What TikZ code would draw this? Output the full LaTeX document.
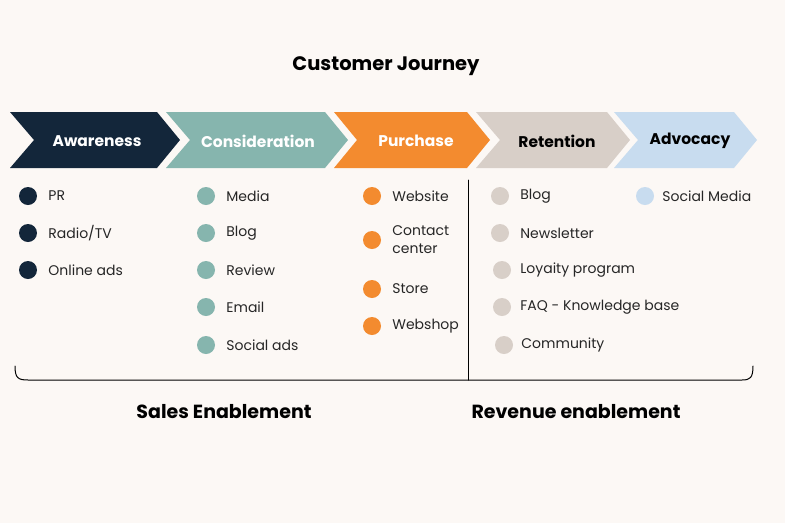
\documentclass[tikz,border=0pt]{standalone}
\usepackage{fontspec}
\setmainfont{Poppins}
\usetikzlibrary{positioning}
\definecolor{bgcol}{HTML}{FCF8F5}
\definecolor{navy}{HTML}{13263A}
\definecolor{teal}{HTML}{86B5AE}
\definecolor{orng}{HTML}{F38B2F}
\definecolor{beige}{HTML}{D8CFC8}
\definecolor{lblue}{HTML}{C8DCEF}
\begin{document}
\begin{tikzpicture}[x=1pt, y=-1pt, line join = round, line cap = round,
  stage/.style={font=\fontsize{15.5}{18}\selectfont\bfseries},
  item/.style={anchor=west, font=\fontsize{14}{18}\selectfont, text=black!85, align=left, inner sep=0pt},
  dot/.style={circle, minimum size=18pt, inner sep=0pt}]

% background and bounding box
\fill[bgcol] (0,0) rectangle (785,523);
\useasboundingbox (0,0) rectangle (785,523);

% title
\node[font=\fontsize{19.5}{22}\selectfont\bfseries] (title) at (386,66) {Customer Journey};

% chevrons
\fill[navy]  (10,112) -- (157,112) -- (180,140) -- (157,168) -- (10,168) -- (34,140) -- cycle;
\fill[teal]  (166,112) -- (325,112) -- (348,140) -- (325,168) -- (166,168) -- (190,140) -- cycle;
\fill[orng]  (334,112) -- (467,112) -- (490,140) -- (467,168) -- (334,168) -- (357,140) -- cycle;
\fill[beige] (476,112) -- (607,112) -- (630,140) -- (607,168) -- (476,168) -- (500,140) -- cycle;
\fill[lblue] (614,112) -- (734,112) -- (757,140) -- (734,168) -- (614,168) -- (638,140) -- cycle;

% stage labels
\node[stage, text=white] (aware) at (97,141) {Awareness};
\node[stage, text=white] (consid) at (258,141) {Consideration};
\node[stage, text=white] (purch) at (416,141) {Purchase};
\node[stage] (reten) at (557,141) {Retention};
\node[stage] (advoc) at (690,141) {Advocacy};

% awareness items
\node[dot, fill=navy] (a1) at (28,196) {}; \node[item, right=11pt of a1] {PR};
\node[dot, fill=navy] (a2) at (28,233) {}; \node[item, right=11pt of a2] {Radio/TV};
\node[dot, fill=navy] (a3) at (28,270) {}; \node[item, right=11pt of a3] {Online ads};

% consideration items
\node[dot, fill=teal] (c1) at (206,196) {}; \node[item, right=11pt of c1] {Media};
\node[dot, fill=teal] (c2) at (206,233) {}; \node[item, right=11pt of c2] {Blog};
\node[dot, fill=teal] (c3) at (206,270) {}; \node[item, right=11pt of c3] {Review};
\node[dot, fill=teal] (c4) at (206,307) {}; \node[item, right=11pt of c4] {Email};
\node[dot, fill=teal] (c5) at (206,345) {}; \node[item, right=11pt of c5] {Social ads};

% purchase items
\node[dot, fill=orng] (p1) at (372,196) {}; \node[item, right=11pt of p1] {Website};
\node[dot, fill=orng] (p2) at (372,240) {}; \node[item, right=11pt of p2] {Contact\\center};
\node[dot, fill=orng] (p3) at (372,289) {}; \node[item, right=11pt of p3] {Store};
\node[dot, fill=orng] (p4) at (372,326) {}; \node[item, right=11pt of p4] {Webshop};

% retention items
\node[dot, fill=beige] (r1) at (500,196) {}; \node[item, right=11pt of r1] {Blog};
\node[dot, fill=beige] (r2) at (500,233) {}; \node[item, right=11pt of r2] {Newsletter};
\node[dot, fill=beige] (r3) at (502,270) {}; \node[item, right=9pt of r3] {Loyaity program};
\node[dot, fill=beige] (r4) at (502,307) {}; \node[item, right=9pt of r4] {FAQ - Knowledge base};
\node[dot, fill=beige] (r5) at (504,345) {}; \node[item, right=8pt of r5] {Community};

% advocacy items
\node[dot, fill=lblue] (v1) at (645,196) {}; \node[item, right=8pt of v1] {Social Media};

% bracket and divider
\coordinate (divtop) at (468,180);
\coordinate (divbot) at (468,380);
\draw[line width=1pt] (15,366) .. controls (15,378) and (18,380) .. (28,380) -- (742,380) .. controls (750,380) and (753,378) .. (753,366);
\draw[line width=1pt] (divtop) -- (divbot);

% bottom labels
\node[font=\fontsize{19}{22}\selectfont\bfseries] (sales) at (224,412) {Sales Enablement};
\node[font=\fontsize{19}{22}\selectfont\bfseries] (revenue) at (576,412) {Revenue enablement};

\end{tikzpicture}
\end{document}
